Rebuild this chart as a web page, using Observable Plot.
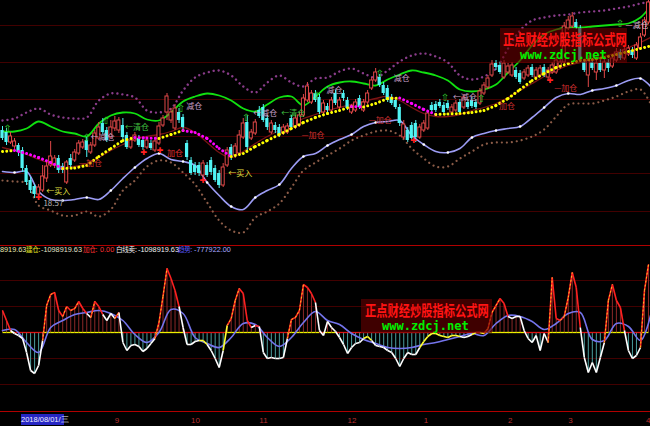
<!DOCTYPE html>
<html><head><meta charset="utf-8">
<script src="https://cdn.jsdelivr.net/npm/d3@7"></script>
<script src="https://cdn.jsdelivr.net/npm/@observablehq/plot@0.6"></script>
<style>
body{margin:0;background:#000;}
#wrap{position:relative;width:650px;height:426px;overflow:hidden;background:#000;font-family:"Liberation Sans",Arial,sans-serif;}
.abs{position:absolute;}
.info{position:absolute;top:245px;font-size:7.3px;line-height:9px;white-space:nowrap;font-family:"Liberation Sans","Noto Sans CJK SC",sans-serif;}
.cjk{font-family:"Noto Sans CJK SC",sans-serif;font-size:6.6px;letter-spacing:-0.3px;}
.wmbox{position:absolute;background:rgba(105,0,0,0.6);}
.wmred{position:absolute;font-family:"Noto Sans CJK SC",sans-serif;font-weight:bold;font-size:15px;line-height:15px;color:#FF1414;transform:scaleX(0.75);transform-origin:0 0;white-space:nowrap;}
.wmgreen{position:absolute;font-family:"DejaVu Sans Mono",monospace;font-weight:bold;font-size:12px;line-height:12px;color:#00F000;white-space:nowrap;}
#date{position:absolute;left:21px;top:414px;width:43px;height:11px;background:#2626C4;color:#F0F0FF;font-size:7.5px;line-height:11px;text-align:center;white-space:nowrap;}
</style></head><body>
<div id="wrap">
  <div id="top" class="abs" style="left:0;top:0"></div>
  <div id="bot" class="abs" style="left:0;top:252px"></div>
  <div id="axis" class="abs" style="left:0;top:412px"></div>
  <div class="info" style="left:0;color:#E8E8B0">8919.63</div>
  <div class="info cjk" style="left:26px;color:#E8E820">建仓:</div>
  <div class="info" style="left:41px;color:#E0E0C8">-1098919.63</div>
  <div class="info cjk" style="left:83px;color:#FF3030">加仓:</div>
  <div class="info" style="left:100px;color:#FF3030">0.00</div>
  <div class="info cjk" style="left:116px;color:#F0F0F0">白线卖:</div>
  <div class="info" style="left:138px;color:#F0F0F0">-1098919.63</div>
  <div class="info cjk" style="left:178px;color:#5A5AFF">趋势:</div>
  <div class="info" style="left:194px;color:#A8A8FF">-777922.00</div>
  <div id="date">2018/08/01/三</div>
  <div class="wmbox" style="left:500px;top:28px;width:127px;height:35px"></div>
  <div class="wmred" style="left:503px;top:31px">正点财经炒股指标公式网</div>
  <div class="wmgreen" style="left:520px;top:49px">www.zdcj.net</div>
  <div class="wmbox" style="left:361px;top:299px;width:131px;height:34px"></div>
  <div class="wmred" style="left:365px;top:302px">正点财经炒股指标公式网</div>
  <div class="wmgreen" style="left:382px;top:320px">www.zdcj.net</div>
</div>
<script>
// ---------- candles (price) ----------
const candleOpen = [
27.0,26.8,25.8,25.4,25.5,25.0,23.2,22.0,21.4,20.6,
21.0,22.2,23.5,23.5,24.2,23.4,21.8,24.2,24.0,24.7,
25.3,26.0,24.8,25.5,26.2,27.7,27.0,26.3,27.2,27.0,
27.5,26.5,25.3,26.0,26.2,26.0,25.3,25.7,25.0,25.7,
27.5,28.8,28.0,27.2,28.8,28.3,25.7,24.0,23.5,23.5,
22.5,23.5,24.0,23.2,22.7,21.5,23.5,25.3,24.5,24.7,
26.3,27.8,26.2,26.7,29.0,29.3,28.2,26.8,27.5,27.3,
26.7,26.8,28.2,27.3,27.5,28.5,30.0,29.8,30.7,30.3,
28.8,29.4,29.0,30.7,29.3,30.7,30.0,28.8,29.0,30.2,
29.0,29.8,31.2,32.0,32.3,31.5,31.2,30.3,30.0,29.3,
26.3,27.0,27.5,27.7,26.3,27.0,27.2,29.5,29.6,29.8,
29.5,29.7,28.8,29.0,29.8,29.3,29.8,30.0,29.8,29.7,
30.7,31.3,32.5,33.7,33.5,32.3,32.8,32.5,33.0,32.7,
32.2,32.5,33.3,32.3,32.5,33.3,32.3,32.8,32.8,33.3,
33.8,37.2,37.4,37.8,37.2,33.8,32.5,33.8,32.8,33.7,
33.0,33.8,33.4,34.0,34.8,34.2,34.6,35.0,34.2,35.2,
36.5,37.8];
const candleClose = [
26.2,25.8,26.4,25.9,24.8,23.2,21.8,21.0,20.6,21.3,
22.4,23.4,24.4,24.2,23.0,23.0,23.8,23.5,24.8,25.7,
25.8,25.0,25.5,26.7,27.3,26.8,26.0,27.3,27.9,28.0,
26.3,25.3,26.0,26.5,25.5,25.3,26.0,25.2,25.9,27.4,
28.2,30.4,28.8,29.2,28.0,27.3,24.3,22.7,22.8,22.7,
23.7,22.5,22.8,22.0,21.5,23.3,25.0,24.3,25.4,26.5,
27.7,25.3,26.8,27.8,28.4,28.0,27.3,27.7,27.0,26.6,
27.3,27.4,27.3,28.2,28.5,30.2,31.4,30.7,30.0,28.8,
29.7,29.0,30.0,29.7,30.0,30.2,29.2,29.3,29.8,29.3,
29.8,30.7,32.0,32.8,31.5,30.7,30.0,29.7,29.3,27.7,
27.6,26.0,26.2,26.3,27.3,27.7,28.7,29.0,29.0,29.4,
28.8,29.2,29.3,29.7,28.8,30.3,29.3,29.4,29.3,30.9,
31.5,32.2,33.6,33.3,32.8,33.7,33.4,33.5,32.3,31.8,
32.8,33.2,32.5,33.0,33.2,32.5,33.0,33.5,34.0,33.8,
37.4,38.0,38.4,37.3,34.0,33.0,34.0,33.2,33.7,33.0,
33.8,33.2,34.2,34.8,34.2,35.0,35.2,34.5,35.5,36.3,
38.0,39.8];
const candleHigh = [
27.4,27.2,26.8,26.2,25.7,25.3,23.5,22.3,21.6,21.6,
23.5,24.0,25.9,24.5,24.5,23.7,24.0,24.6,25.1,26.0,
26.1,26.3,25.8,27.0,27.8,28.2,27.3,28.0,28.4,28.3,
28.2,26.8,26.3,26.8,26.5,26.3,26.3,26.0,26.2,27.8,
28.5,30.7,29.2,29.6,29.2,28.6,26.0,24.3,23.8,23.8,
24.0,23.8,24.3,23.5,23.0,23.7,25.3,25.6,25.7,27.0,
28.2,28.5,27.1,28.1,29.4,29.6,28.5,28.0,27.8,27.6,
27.6,27.7,28.5,28.5,28.8,30.6,31.8,31.0,31.0,30.6,
30.0,29.7,30.3,31.0,30.3,31.0,30.3,29.6,30.1,30.5,
30.1,31.0,32.3,33.2,32.6,31.8,31.5,30.6,30.3,29.6,
28.0,27.3,27.8,28.0,27.6,28.0,29.0,29.8,29.9,30.1,
29.8,30.0,29.6,30.0,30.1,30.6,30.1,30.3,30.1,31.2,
31.8,32.5,34.0,34.0,33.8,34.0,33.7,33.8,33.3,33.0,
33.1,33.5,33.6,33.3,33.5,33.6,33.3,33.8,34.3,34.2,
37.8,38.4,38.8,38.1,37.5,34.1,34.5,34.1,34.0,34.0,
34.1,34.1,34.5,35.2,35.1,35.3,35.5,35.3,35.8,36.7,
38.3,40.0];
const candleLow = [
26.0,25.5,25.6,25.0,24.4,22.8,21.5,20.7,20.2,20.0,
20.8,21.8,23.3,23.2,22.7,22.7,21.6,23.2,23.8,24.5,
25.1,24.3,24.6,25.3,26.0,26.6,25.8,26.1,26.9,26.7,
26.1,25.1,25.1,25.8,25.3,25.0,25.1,25.0,24.8,25.5,
27.3,28.0,27.7,27.0,27.7,27.0,24.0,22.5,22.5,22.4,
22.2,22.3,22.5,21.8,21.2,21.3,23.3,24.0,24.2,24.5,
26.1,25.0,26.0,26.5,28.2,27.8,27.0,26.6,26.7,26.3,
26.5,26.6,27.1,27.1,27.3,28.3,29.8,29.6,29.8,28.6,
28.6,28.7,28.8,29.5,29.1,29.9,29.0,28.6,28.8,29.1,
28.8,29.6,31.0,31.8,31.3,30.5,29.8,29.5,29.1,27.4,
26.1,25.8,25.9,25.8,26.1,26.8,27.0,28.8,28.8,29.2,
28.6,29.0,28.6,28.8,28.6,29.1,29.1,29.2,29.1,29.5,
30.5,31.1,32.3,33.0,32.6,32.1,32.6,32.3,32.1,31.6,
32.0,32.3,32.3,32.1,32.3,32.3,32.0,32.6,32.6,33.1,
33.6,37.0,37.2,37.1,33.8,32.8,31.3,33.0,32.0,32.8,
32.2,32.8,33.2,33.8,34.0,34.0,34.4,34.2,34.0,35.0,
36.3,37.6];

// ---------- band lines, sampled every 3 bars ----------
const sampleIdx = [0,3,6,9,12,15,18,21,24,27,30,33,36,39,42,45,48,51,54,57,60,63,66,69,72,75,78,81,84,87,90,93,96,99,102,105,108,111,114,117,120,123,126,129,132,135,138,141,144,147,150,153,156,159,162];
const upperGreen = [26.9,26.9,27.2,27.9,27.4,26.9,26.7,26.4,27.7,28.5,
28.8,28.7,28.1,28.0,28.8,29.9,30.4,30.7,30.5,30.0,
29.2,28.9,29.6,30.3,30.4,29.5,30.4,31.4,31.8,31.9,
31.7,31.5,32.1,32.6,33.0,32.8,32.5,32.0,31.1,30.9,
31.1,31.6,32.8,34.0,35.5,36.6,37.1,37.3,37.3,37.4,
37.5,37.6,37.7,38.3,39.7];
const upperDots = [28.0,28.2,28.8,29.2,28.6,28.3,28.2,28.3,30.0,30.7,
30.6,30.3,29.0,28.8,29.2,31.0,32.3,32.8,33.0,32.5,
31.4,30.8,31.8,32.5,31.8,31.4,32.2,32.3,32.9,33.2,
32.7,32.3,33.0,33.9,34.5,34.7,34.4,33.8,32.5,32.1,
32.4,33.2,35.2,37.0,38.0,38.3,38.5,38.6,38.8,38.9,
39.0,39.2,39.4,39.7,39.9];
const midDots = [24.9,25.0,24.7,24.3,23.8,23.2,23.25,23.5,24.4,25.2,
26.0,26.3,26.25,26.2,26.6,27.0,26.8,26.2,25.2,24.4,
24.7,25.4,26.0,26.6,27.2,27.8,28.3,28.7,29.0,29.4,
29.35,29.7,30.2,30.25,29.7,29.1,28.6,28.65,28.7,28.8,
29.0,29.5,30.2,31.1,32.0,32.7,33.3,33.7,34.0,34.1,
34.3,34.6,34.9,35.2,35.5];
const redAverage = [25.3,25.0,24.6,24.1,23.7,23.4,23.4,23.7,24.3,25.0,
25.6,26.1,26.4,26.6,26.9,27.3,26.8,25.8,24.8,24.3,
24.9,25.7,26.4,27.0,27.6,28.2,28.6,29.0,29.3,29.6,
29.9,30.2,30.4,30.0,29.3,28.7,28.4,28.4,28.6,29.0,
29.3,29.7,30.3,31.0,31.7,32.4,33.0,33.5,33.8,34.0,
34.4,34.8,35.3,35.8,36.4];
const lowerBlue = [22.9,22.8,22.9,20.9,20.1,20.0,20.1,20.3,20.1,21.0,
22.2,23.3,24.2,24.7,24.1,23.9,23.5,21.8,20.5,19.4,
19.1,20.3,21.0,21.6,23.2,24.4,24.7,25.5,26.1,26.6,
27.4,27.8,27.9,28.0,26.5,25.6,24.9,24.8,25.2,26.3,
26.7,27.0,27.2,27.4,28.3,29.3,30.3,30.7,30.6,31.0,
31.2,31.5,32.0,32.2,31.2];
const lowerDots = [22.0,21.9,21.7,19.5,19.0,18.5,18.5,18.9,18.4,19.1,
21.0,22.0,23.4,24.0,23.8,22.8,21.6,19.8,18.0,17.0,
16.8,18.3,18.9,19.7,21.3,23.0,23.8,24.5,25.2,26.0,
26.5,26.9,27.0,26.5,25.2,24.2,23.4,23.4,24.2,24.9,
25.6,25.8,25.8,26.0,26.4,27.1,28.4,29.6,29.7,29.7,
30.0,30.4,30.9,31.1,29.3];
const gridTop = [37.5,33.8,30.1,26.4,22.7,18.9];

// ---------- signal labels ----------
const noteText  = ["←买入","18.57","←减仓","←清仓","减仓","加仓","—加仓","←减仓","←清仓","减仓","减仓","—加仓","←买入","—加仓","←减仓","加仓","—加仓","—减仓"];
const noteIdx   = [10.9,10.2,22,30.5,45.8,41,19,62.5,69.5,80.75,97.5,74.5,56.25,91.25,112.3,123.75,137.5,155.3];
const notePrice = [20.9,19.7,26.3,27.3,29.4,24.7,23.7,28.7,28.7,31.0,32.2,26.5,22.7,28.0,30.3,29.4,31.2,37.5];
const noteColor = ["#E8E040","#B8B8B8","#C8A0C8","#40C040","#C8A0C8","#E03030","#D03030","#C8A0C8","#40C040","#C8A0C8","#C8A0C8","#D03030","#E8E040","#D03030","#C8A0C8","#D03030","#D03030","#D8C0D8"];
const upArrowIdx   = [1.25,21,25.75,44.5,60.75,78.25,94,110.25,119.3,153.9];
const upArrowPrice = [27.2,26.3,28.0,29.2,28.3,30.5,32.7,30.3,30.2,37.7];
const crossIdx   = [9,35.25,39.25,50,102.5,136.5];
const crossPrice = [20.3,24.8,25.0,22.0,26.0,32.0];

// ---------- oscillator panel ----------
const oscLine = [22,12,2,-1,-3,-6,-20,-38,-41,-33,
-8,27,38,40,22,16,26,22,24,31,
24,19,15,31,26,18,12,19,14,20,
-10,-18,-13,-12,-14,-19,-16,-11,-6,10,
36,64,54,42,26,5,-12,-12,-9,-8,
-8,-12,-18,-26,-35,-18,7,14,32,44,
39,12,5,7,6,-20,-26,-25,-26,-26,
-25,-6,13,15,22,48,45,39,30,2,
-3,11,5,1,-5,-12,-21,-15,-11,-10,
-6,-4,-8,-13,-14,-15,-18,-20,-26,-34,
-26,-20,-22,-22,-15,-9,-4,-1,-1,-3,
-4,-5,-3,-3,-4,-5,-4,-2,0,0,
-1,4,20,27,34,29,16,14,16,16,
2,-6,-10,-3,-18,-1,-10,55,14,12,
16,35,60,45,5,-25,-40,-30,-40,-25,
-10,32,48,32,25,2,-18,-26,-23,-15,
42,68];
const oscAverage = [2,3,-10,-20,5,12,18,20,22,19,
12,-2,-10,0,23,19,-5,-11,-15,-5,
9,8,-5,-14,-5,10,21,12,8,-1,
-7,-11,-15,-16,-15,-12,-10,-7,-4,-1,
-3,9,17,16,11,3,9,19,20,-7,
-8,9,6,-8,25];
const gridLow = [-52,-26,26,52];

// ---------- axis ----------
const monthLabel = ["9","10","11","12","1","2","3","4"];
const monthIdx   = [28,47,64,86,105,126,141,160.4];

// ================= drawing =================
const X = {domain: [-0.5, 161.5], axis: null};
const candles = candleOpen.map((o, i) => ({i, o, c: candleClose[i], h: candleHigh[i], l: candleLow[i]}));
const ups = candles.filter(d => d.c >= d.o);
const downs = candles.filter(d => d.c < d.o);
const bands = sampleIdx.map((i, k) => ({i, green: upperGreen[k], purple: upperDots[k], mid: midDots[k],
  red: redAverage[k], blue: lowerBlue[k], brown: lowerDots[k]}));
const midSegs = bands.slice(1).map((d, k) => ({x1: bands[k].i, y1: bands[k].mid, x2: d.i, y2: d.mid,
  c: d.mid >= bands[k].mid ? "#FFFF00" : "#FF00FF"}));
const notes = noteText.map((t, k) => ({t, i: noteIdx[k], p: notePrice[k], c: noteColor[k]}));
const arrows = upArrowIdx.map((i, k) => ({i, p: upArrowPrice[k]}));
const crosses = crossIdx.map((i, k) => ({i, p: crossPrice[k]}));
const CJK = "'Noto Sans CJK SC', sans-serif";

const topChart = Plot.plot({
  width: 650, height: 246, margin: 0,
  x: X, y: {domain: [15.4, 40], axis: null},
  style: {background: "transparent"},
  marks: [
    Plot.ruleY(gridTop, {stroke: "#420000"}),
    Plot.ruleY([15.5], {stroke: "#B00000"}),
    Plot.line(bands, {x: "i", y: "purple", stroke: "#8A3C8A", strokeWidth: 2.4, strokeDasharray: "0.01,5", strokeLinecap: "round", curve: "catmull-rom"}),
    Plot.line(bands, {x: "i", y: "brown", stroke: "#8C5C48", strokeWidth: 2.2, strokeDasharray: "0.01,5", strokeLinecap: "round", curve: "catmull-rom"}),
    Plot.line(bands, {x: "i", y: "red", stroke: "#7A1414", strokeWidth: 1.3, curve: "catmull-rom"}),
    Plot.line(bands, {x: "i", y: "green", stroke: "#10E010", strokeWidth: 1.8, curve: "catmull-rom"}),
    Plot.line(bands, {x: "i", y: "blue", stroke: "#9C9CF4", strokeWidth: 1.6, curve: "catmull-rom"}),
    Plot.dot(bands.filter((d, k) => k % 2 === 1), {x: "i", y: "blue", r: 1.3, fill: "#FFFFFF"}),
    Plot.ruleX(candles, {x: "i", y1: "l", y2: "h", stroke: d => d.c >= d.o ? "#E04848" : "#50F4F4"}),
    Plot.rect(ups, {x1: d => d.i - 0.38, x2: d => d.i + 0.38, y1: "o", y2: "c", fill: "#000", stroke: "#E04848"}),
    Plot.rect(downs, {x1: d => d.i - 0.4, x2: d => d.i + 0.4, y1: "o", y2: "c", fill: "#50F4F4"}),
    Plot.link(midSegs, {x1: "x1", y1: "y1", x2: "x2", y2: "y2", stroke: "c", strokeWidth: 3, strokeDasharray: "0.01,4.2", strokeLinecap: "round"}),
    Plot.text(arrows, {x: "i", y: "p", text: () => "⇧", fill: "#30D030", fontSize: 10, fontFamily: "DejaVu Sans"}),
    Plot.text(crosses, {x: "i", y: "p", text: () => "✚", fill: "#FF2020", fontSize: 8, fontFamily: "DejaVu Sans"}),
    Plot.text(notes, {x: "i", y: "p", text: "t", fill: "c", textAnchor: "start", fontSize: 8, fontFamily: CJK})
  ]
});
document.getElementById("top").append(topChart);

const oscRows = oscLine.map((v, i) => ({i, v}));
const avgRows = sampleIdx.map((i, k) => ({i, v: oscAverage[k]}));
function avgAt(x) {
  let k = Math.min(Math.floor(x / 3), sampleIdx.length - 2);
  const t = (x - sampleIdx[k]) / (sampleIdx[k + 1] - sampleIdx[k]);
  return oscAverage[k] * (1 - t) + oscAverage[k + 1] * t;
}
const oscSegs = [];
for (let i = 0; i < oscLine.length - 1; i++) {
  const a = oscLine[i], b = oscLine[i + 1], m = (a + b) / 2, av = avgAt(i + 0.5);
  const c = m >= av ? (m >= 0 ? "#FF2020" : "#FFFF30") : "#FFFFFF";
  oscSegs.push({x1: i, y1: a, x2: i + 1, y2: b, c, rise: b > a});
}
const zeroSegs = oscLine.slice(1).map((b, k) => ({x1: k, x2: k + 1, c: (oscLine[k] + b) / 2 < 0 ? "#E01010" : "#F0F000"}));

const botChart = Plot.plot({
  width: 650, height: 160, margin: 0,
  x: X, y: {domain: [-80, 80], axis: null},
  style: {background: "transparent"},
  marks: [
    Plot.ruleY(gridLow, {stroke: "#420000"}),
    Plot.ruleY([-79], {stroke: "#B00000"}),
    Plot.ruleX(oscRows, {x: "i", y1: 0, y2: "v", stroke: d => d.v >= 0 ? "#8A2828" : "#4A9C9C"}),
    Plot.link(zeroSegs, {x1: "x1", x2: "x2", y1: 0, y2: 0, stroke: "c", strokeWidth: 1.3}),
    Plot.line(avgRows, {x: "i", y: "v", stroke: "#7474EC", strokeWidth: 1.6, curve: "catmull-rom"}),
    Plot.link(oscSegs, {x1: "x1", y1: "y1", x2: "x2", y2: "y2", stroke: "c", strokeWidth: 1.6}),
    Plot.link(oscSegs.filter(d => d.c === "#FF2020" && d.rise), {x1: "x1", y1: "y1", x2: "x2", y2: "y2", stroke: "#FFC020", strokeWidth: 1, strokeDasharray: "2,2"})
  ]
});
document.getElementById("bot").append(botChart);

const months = monthLabel.map((t, k) => ({t, i: monthIdx[k]}));
const axisChart = Plot.plot({
  width: 650, height: 14, margin: 0,
  x: X, y: {domain: [0, 1], axis: null},
  style: {background: "transparent", overflow: "visible"},
  marks: [
    Plot.text(months, {x: "i", y: 0.45, text: "t", fill: "#B83030", fontSize: 8, textAnchor: "start", fontFamily: "Liberation Sans"})
  ]
});
document.getElementById("axis").append(axisChart);
</script>
</body></html>
